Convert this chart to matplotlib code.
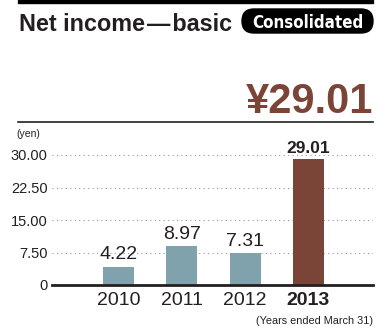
import matplotlib
matplotlib.use("Agg")
import matplotlib.pyplot as plt
from matplotlib.patches import FancyBboxPatch, Rectangle
from matplotlib.lines import Line2D

years = ["2010", "2011", "2012", "2013"]
values = [4.22, 8.97, 7.31, 29.01]
value_labels = ["4.22", "8.97", "7.31", "29.01"]
yticks = [0, 7.5, 15, 22.5, 30]
ytick_labels = ["0", "7.50", "15.00", "22.50", "30.00"]
title = "Net income\u200a\u2014\u200abasic"
badge = "Consolidated"
headline = "\u00a529.01"
unit = "(yen)"
note = "(Years ended March 31)"

W, H = 387, 331
BLUE = "#7fa2ad"
BROWN = "#7a4537"
TXT = "#231f20"

plt.rcParams['font.family'] = ['Liberation Sans', 'DejaVu Sans']

fig = plt.figure(figsize=(W / 100, H / 100), dpi=100)

def fx(px):
    return px / W

def fy(py):
    return 1 - py / H

# top black bar
fig.patches.append(Rectangle((fx(18), fy(3)), fx(373) - fx(18), fy(0) - fy(3),
                             transform=fig.transFigure, color="black", zorder=5))
# title
fig.text(fx(19), fy(31), title, fontsize=16.8, fontweight="bold", color=TXT,
         ha="left", va="baseline")
# badge
fig.patches.append(FancyBboxPatch((fx(242), fy(33)), fx(373) - fx(242), fy(9) - fy(33),
                                  boxstyle="round,pad=0,rounding_size=0.031",
                                  transform=fig.transFigure, color="black",
                                  mutation_aspect=W / H))
fig.text(fx(307.5), fy(27.5), badge, fontsize=12.2, fontweight="bold", color="white",
         ha="center", va="baseline", stretch="condensed",
         family=['DejaVu Sans'])
# headline
fig.text(fx(373), fy(113), headline, fontsize=30, fontweight="bold", color=BROWN,
         ha="right", va="baseline")
# separator line
fig.lines.append(Line2D([fx(18), fx(373)], [fy(122), fy(122)], transform=fig.transFigure,
                        color=TXT, lw=1.2))
# unit
fig.text(fx(16), fy(134), unit, fontsize=7.5, color=TXT, ha="left", va="center")
# note
fig.text(fx(373), fy(321), note, fontsize=7.8, color=TXT, ha="right", va="center")

# axes
ax_left, ax_right, ax_top, ax_bottom = 52, 373, 150, 285
ax = fig.add_axes([fx(ax_left), fy(ax_bottom), fx(ax_right) - fx(ax_left), fy(ax_top) - fy(ax_bottom)])
px_per_unit_x = 63.33
x0 = 118.5
ax.set_xlim((ax_left - x0) / px_per_unit_x, (ax_right - x0) / px_per_unit_x)
px_per_unit_y = 130 / 30
ax.set_ylim(0, (ax_bottom - ax_top) / px_per_unit_y)

xs = list(range(len(years)))
colors = [BLUE, BLUE, BLUE, BROWN]
ax.bar(xs, values, width=0.49, color=colors, zorder=3)

for x, v, lab in zip(xs, values, value_labels):
    bold = (x == len(xs) - 1)
    ax.annotate(lab, (x, v), xytext=(0, 2.5), textcoords="offset points", ha="center",
                va="bottom", fontsize=14 if not bold else 12.5,
                fontweight="bold" if bold else "normal", color=TXT)

for y in yticks[1:]:
    ax.axhline(y, color="#9a9a9a", lw=0.8, ls=(0, (1, 3)), zorder=1)

ax.set_yticks(yticks)
ax.set_yticklabels(ytick_labels, fontsize=10.5, color=TXT)
ax.set_xticks(xs)
ax.set_xticklabels(years, fontsize=14, color=TXT)
ax.get_xticklabels()[-1].set_fontweight("bold")
ax.tick_params(axis="both", length=0)
ax.tick_params(axis="y", pad=3)
ax.tick_params(axis="x", pad=5)
for s in ["top", "right", "left"]:
    ax.spines[s].set_visible(False)
ax.spines["bottom"].set_linewidth(2.0)
ax.spines["bottom"].set_color(TXT)
ax.spines["bottom"].set_zorder(4)
ax.patch.set_alpha(0)

fig.savefig("out.png", dpi=100)
